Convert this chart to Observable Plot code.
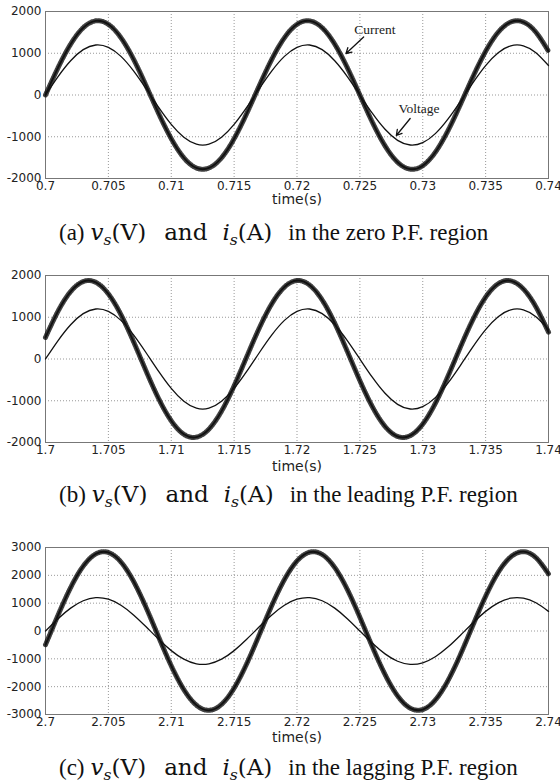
<!DOCTYPE html>
<html><head><meta charset="utf-8">
<script src="https://cdn.jsdelivr.net/npm/d3@7"></script>
<script src="https://cdn.jsdelivr.net/npm/@observablehq/plot@0.6"></script>
<style>
body{margin:0;background:#fff;width:560px;height:783px;position:relative;overflow:hidden;}
.panel{position:absolute;left:0;}
.cap{position:absolute;left:59px;font-family:"Liberation Serif","Times New Roman",serif;font-size:23px;line-height:30px;white-space:nowrap;color:#111;}
.cap .m{font-family:"DejaVu Serif",serif;font-size:23px;}
.cap sub{font-size:0.68em;vertical-align:-0.3em;line-height:0;font-style:italic;}
</style></head><body>
<script>
// sample offsets (ms from the start of each window)
const sampleMs = [0,1,2,3,4,5,6,7,8,9,10,11,12,13,14,15,16,17,18,19,20,21,22,23,24,25,26,27,28,29,30,31,32,33,34,35,36,37,38,39,40];

// (a) zero P.F.
const voltageA = [0,442,821,1086,1198,1141,925,578,150,-298,-705,-1013,-1179,-1179,-1013,-705,-298,150,578,925,1141,1198,1086,821,442,0,-442,-821,-1086,-1198,-1141,-925,-578,-150,298,705,1013,1179,1179,1013,705];
const currentA = [0,655,1218,1611,1776,1693,1371,858,223,-443,-1046,-1503,-1748,-1748,-1503,-1046,-443,223,858,1371,1693,1776,1611,1218,655,0,-655,-1218,-1611,-1776,-1693,-1371,-858,-223,443,1046,1503,1748,1748,1503,1046];
// (b) leading P.F.
const voltageB = [0,442,821,1086,1198,1141,925,578,150,-298,-705,-1013,-1179,-1179,-1013,-705,-298,150,578,925,1141,1198,1086,821,442,0,-442,-821,-1086,-1198,-1141,-925,-578,-150,298,705,1013,1179,1179,1013,705];
const currentB = [518,1147,1615,1856,1836,1559,1062,416,-288,-952,-1481,-1803,-1872,-1678,-1248,-643,52,741,1325,1723,1879,1771,1415,859,183,-518,-1147,-1615,-1856,-1836,-1559,-1062,-416,288,952,1481,1803,1872,1678,1248,643];
// (c) lagging P.F.
const voltageC = [0,442,821,1086,1198,1141,925,578,150,-298,-705,-1013,-1179,-1179,-1013,-705,-298,150,578,925,1141,1198,1086,821,442,0,-442,-821,-1086,-1198,-1141,-925,-578,-150,298,705,1013,1179,1179,1013,705];
const currentC = [-495,573,1561,2330,2770,2822,2478,1786,843,-219,-1249,-2105,-2664,-2850,-2635,-2050,-1177,-139,919,1847,2516,2832,2750,2282,1493,495,-573,-1561,-2330,-2770,-2822,-2478,-1786,-843,219,1249,2105,2664,2850,2635,2050];

// ticks
const xTicks = [0,5,10,15,20,25,30,35,40];
const xLabelsA = ["0.7","0.705","0.71","0.715","0.72","0.725","0.73","0.735","0.74"];
const xLabelsB = ["1.7","1.705","1.71","1.715","1.72","1.725","1.73","1.735","1.74"];
const xLabelsC = ["2.7","2.705","2.71","2.715","2.72","2.725","2.73","2.735","2.74"];
const yTicksAB = [-2000,-1000,0,1000,2000];
const yLabelsAB = ["-2000","-1000","0","1000","2000"];
const yTicksC = [-3000,-2000,-1000,0,1000,2000,3000];
const yLabelsC = ["-3000","-2000","-1000","0","1000","2000","3000"];
const xAxisTitle = "time(s)";

// annotations in panel (a)
const noteLabels = ["Current","Voltage"];
const noteMs = [26.2,29.7];
const noteVal = [1569,-323];
const arrowFromMs = [25.3,29.0];
const arrowFromVal = [1389,-563];
const arrowToMs = [23.9,27.9];
const arrowToVal = [994,-970];

// captions
const capLetters = ["(a)","(b)","(c)"];
const capRegions = ["in the zero P.F. region","in the leading P.F. region","in the lagging P.F. region"];

const panels = [
  {top:0, capTop:217, v:voltageA, c:currentA, xl:xLabelsA, yt:yTicksAB, yl:yLabelsAB, yd:[-2000,2000], labelDy:21, notes:true},
  {top:264, capTop:479, v:voltageB, c:currentB, xl:xLabelsB, yt:yTicksAB, yl:yLabelsAB, yd:[-2000,2000], labelDy:24, notes:false},
  {top:536, capTop:752, v:voltageC, c:currentC, xl:xLabelsC, yt:yTicksC, yl:yLabelsC, yd:[-3000,3000], labelDy:23, notes:false}
];

panels.forEach((p, k) => {
  const rows = sampleMs.map((ms, i) => ({ms, v: p.v[i], c: p.c[i]}));
  const marks = [
    Plot.gridX(xTicks, {stroke:"#999", strokeOpacity:1, strokeDasharray:"1,2"}),
    Plot.gridY(p.yt, {stroke:"#999", strokeOpacity:1, strokeDasharray:"1,2"}),
    Plot.frame({stroke:"#777"}),
    Plot.line(rows, {x:"ms", y:"v", curve:"natural", stroke:"#111", strokeWidth:1.3}),
    Plot.line(rows, {x:"ms", y:"c", curve:"natural", stroke:"#111", strokeWidth:1.9}),
    Plot.line(rows, {x:"ms", y:"c", curve:"natural", stroke:"#111", strokeWidth:5, strokeDasharray:"1,1.3", strokeOpacity:0.8}),
    Plot.text([xAxisTitle], {frameAnchor:"bottom", dy:p.labelDy, lineAnchor:"middle", fontSize:14, fill:"#222"})
  ];
  if (p.notes) {
    const notes = noteLabels.map((t, i) => ({t, x: noteMs[i], y: noteVal[i], x1: arrowFromMs[i], y1: arrowFromVal[i], x2: arrowToMs[i], y2: arrowToVal[i]}));
    marks.push(Plot.text(notes, {x:"x", y:"y", text:"t", fontFamily:'"Liberation Serif",serif', fontSize:13.5, fill:"#222"}));
    marks.push(Plot.arrow(notes, {x1:"x1", y1:"y1", x2:"x2", y2:"y2", stroke:"#111", strokeWidth:1.3, headLength:7}));
  }
  const chart = Plot.plot({
    width:560, height:210, marginTop:11, marginLeft:45, marginRight:12, marginBottom:32,
    style:{fontFamily:'"DejaVu Sans",sans-serif', fontSize:"12px", color:"#222", background:"transparent", overflow:"visible"},
    x:{domain:[0,40], ticks:xTicks, tickFormat:d => p.xl[xTicks.indexOf(d)], tickSize:0, tickPadding:3, label:null},
    y:{domain:p.yd, ticks:p.yt, tickFormat:d => p.yl[p.yt.indexOf(d)], tickSize:0, tickPadding:4, label:null},
    marks
  });
  const wrap = document.createElement("div");
  wrap.className = "panel";
  wrap.style.top = p.top + "px";
  wrap.appendChild(chart);
  document.body.appendChild(wrap);

  const cap = document.createElement("div");
  cap.className = "cap";
  cap.style.top = p.capTop + "px";
  cap.innerHTML = `<span>${capLetters[k]}</span><span class="m" style="margin-left:6px"><i>v</i><sub>s</sub>(V)</span><span class="m" style="margin-left:18px">and</span><span class="m" style="margin-left:15px"><i>i</i><sub>s</sub>(A)</span><span style="margin-left:16px">${capRegions[k]}</span>`;
  document.body.appendChild(cap);
});
</script>
</body></html>
